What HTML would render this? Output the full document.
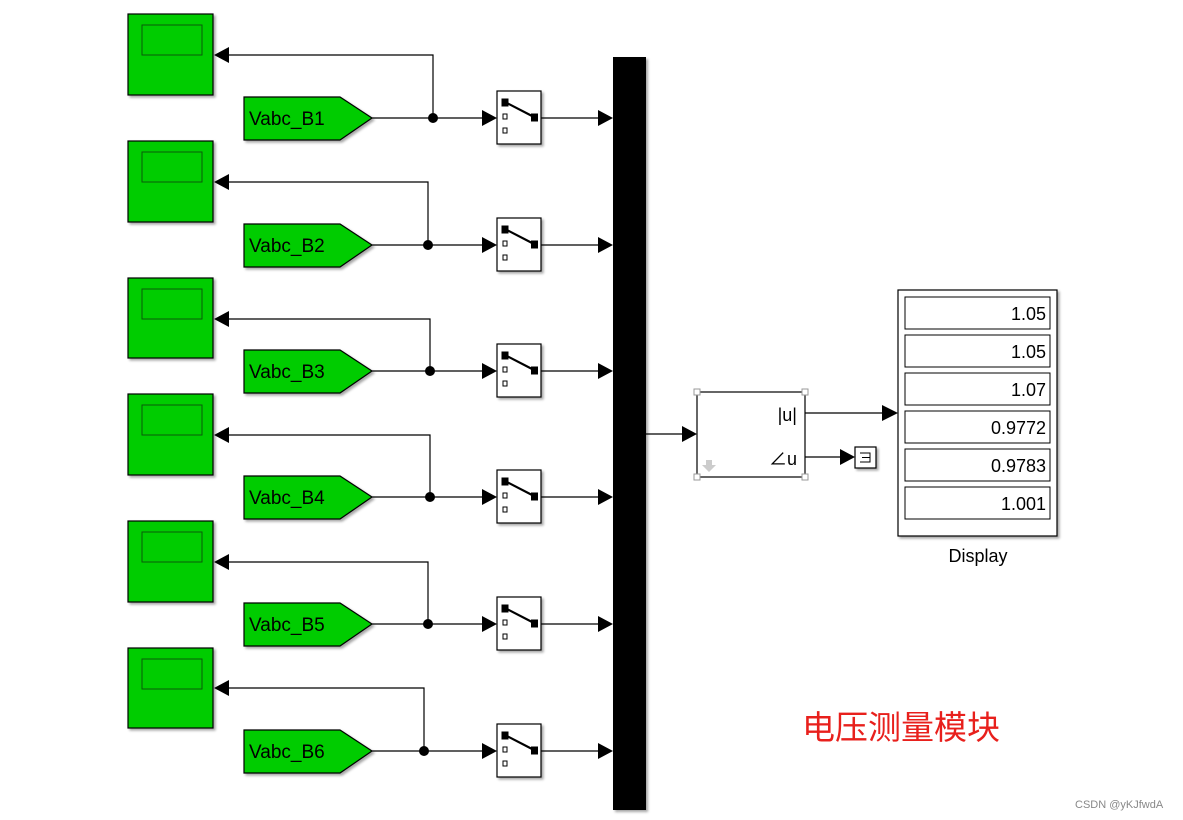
<!DOCTYPE html>
<html><head><meta charset="utf-8"><style>
html,body{margin:0;padding:0;background:#fff;}
svg{display:block;}
text{font-family:"Liberation Sans","Noto Sans CJK SC",sans-serif;}
</style></head><body>
<svg width="1183" height="820" viewBox="0 0 1183 820" xmlns="http://www.w3.org/2000/svg">
<defs>
<filter id="sh" x="-10%" y="-10%" width="130%" height="130%"><feDropShadow dx="2" dy="2" stdDeviation="1.2" flood-color="#000" flood-opacity="0.35"/></filter>
<g id="sw">
<rect x="0" y="0" width="44" height="53" fill="#fff" stroke="#000" stroke-width="1.2" filter="url(#sh)"/>
<rect x="4.5" y="7.5" width="7" height="8" fill="#000"/>
<rect x="34" y="22.5" width="7" height="8" fill="#000"/>
<line x1="8" y1="11" x2="37" y2="26" stroke="#000" stroke-width="2.2"/>
<rect x="6" y="23" width="4" height="5" fill="#fff" stroke="#000" stroke-width="1"/>
<rect x="6" y="37" width="4" height="5" fill="#fff" stroke="#000" stroke-width="1"/>
</g>
</defs>

<rect x="613" y="57" width="33" height="753" fill="#000" filter="url(#sh)"/>

<g stroke="#000" stroke-width="1.2" fill="none">
<path d="M372 118 H488 M433 118 V55 H226 M541 118 H604"/>
<path d="M372 245 H488 M428 245 V182 H226 M541 245 H604"/>
<path d="M372 371 H488 M430 371 V319 H226 M541 371 H604"/>
<path d="M372 497 H488 M430 497 V435 H226 M541 497 H604"/>
<path d="M372 624 H488 M428 624 V562 H226 M541 624 H604"/>
<path d="M372 751 H488 M424 751 V688 H226 M541 751 H604"/>
<path d="M646 434 H686 M805 413 H886 M805 457 H843"/>
</g>
<g fill="#000">
<circle cx="433" cy="118" r="5"/><circle cx="428" cy="245" r="5"/><circle cx="430" cy="371" r="5"/>
<circle cx="430" cy="497" r="5"/><circle cx="428" cy="624" r="5"/><circle cx="424" cy="751" r="5"/>
<path d="M482 110 L497 118 L482 126Z"/><path d="M482 237 L497 245 L482 253Z"/><path d="M482 363 L497 371 L482 379Z"/>
<path d="M482 489 L497 497 L482 505Z"/><path d="M482 616 L497 624 L482 632Z"/><path d="M482 743 L497 751 L482 759Z"/>
<path d="M598 110 L613 118 L598 126Z"/><path d="M598 237 L613 245 L598 253Z"/><path d="M598 363 L613 371 L598 379Z"/>
<path d="M598 489 L613 497 L598 505Z"/><path d="M598 616 L613 624 L598 632Z"/><path d="M598 743 L613 751 L598 759Z"/>
<path d="M229 47 L214 55 L229 63Z"/><path d="M229 174 L214 182 L229 190Z"/><path d="M229 311 L214 319 L229 327Z"/>
<path d="M229 427 L214 435 L229 443Z"/><path d="M229 554 L214 562 L229 570Z"/><path d="M229 680 L214 688 L229 696Z"/>
<path d="M682 426 L697 434 L682 442Z"/><path d="M882 405 L898 413 L882 421Z"/><path d="M840 449 L855 457 L840 465Z"/>
</g>

<g fill="#00cc00" stroke="#000" stroke-width="1.2">
<rect x="128" y="14" width="85" height="81" filter="url(#sh)"/>
<rect x="128" y="141" width="85" height="81" filter="url(#sh)"/>
<rect x="128" y="278" width="85" height="80" filter="url(#sh)"/>
<rect x="128" y="394" width="85" height="81" filter="url(#sh)"/>
<rect x="128" y="521" width="85" height="81" filter="url(#sh)"/>
<rect x="128" y="648" width="85" height="80" filter="url(#sh)"/>
</g>
<g fill="none" stroke="#0a5a0a" stroke-width="1">
<rect x="142" y="25" width="60" height="30"/><rect x="142" y="152" width="60" height="30"/>
<rect x="142" y="289" width="60" height="30"/><rect x="142" y="405" width="60" height="30"/>
<rect x="142" y="532" width="60" height="30"/><rect x="142" y="659" width="60" height="30"/>
</g>

<g fill="#00cc00" stroke="#000" stroke-width="1.2" filter="url(#sh)">
<path d="M244 97 H340 L372 118 L340 140 H244Z"/>
<path d="M244 224 H340 L372 245 L340 267 H244Z"/>
<path d="M244 350 H340 L372 371 L340 393 H244Z"/>
<path d="M244 476 H340 L372 497 L340 519 H244Z"/>
<path d="M244 603 H340 L372 624 L340 646 H244Z"/>
<path d="M244 730 H340 L372 751 L340 773 H244Z"/>
</g>
<g font-size="19" fill="#000">
<text x="249" y="125">Vabc_B1</text><text x="249" y="252">Vabc_B2</text><text x="249" y="378">Vabc_B3</text>
<text x="249" y="504">Vabc_B4</text><text x="249" y="631">Vabc_B5</text><text x="249" y="758">Vabc_B6</text>
</g>

<use href="#sw" x="497" y="91"/><use href="#sw" x="497" y="218"/><use href="#sw" x="497" y="344"/>
<use href="#sw" x="497" y="470"/><use href="#sw" x="497" y="597"/><use href="#sw" x="497" y="724"/>

<rect x="697" y="392" width="108" height="85" fill="#fff" stroke="#000" stroke-width="1.2"/>
<g fill="#fff" stroke="#999" stroke-width="1">
<rect x="694" y="389" width="6" height="6"/><rect x="802" y="389" width="6" height="6"/>
<rect x="694" y="474" width="6" height="6"/><rect x="802" y="474" width="6" height="6"/>
</g>
<path d="M706 460 h6 v5 h4 l-7 7 l-7 -7 h4z" fill="#ccc"/>
<text x="797" y="421" font-size="18" text-anchor="end">|u|</text>
<text x="797" y="465" font-size="18" text-anchor="end">∠u</text>
<rect x="855" y="447" width="21" height="21" fill="#fff" stroke="#000" stroke-width="1.2" filter="url(#sh)"/>
<path d="M860 453 H870 V462 H860 M862 457.5 H870" stroke="#000" stroke-width="1" fill="none"/>

<rect x="898" y="290" width="159" height="246" fill="#fff" stroke="#000" stroke-width="1.2" filter="url(#sh)"/>
<g fill="#fff" stroke="#000" stroke-width="1">
<rect x="905" y="297" width="145" height="32"/><rect x="905" y="335" width="145" height="32"/>
<rect x="905" y="373" width="145" height="32"/><rect x="905" y="411" width="145" height="32"/>
<rect x="905" y="449" width="145" height="32"/><rect x="905" y="487" width="145" height="32"/>
</g>
<g font-size="18" text-anchor="end" fill="#000">
<text x="1046" y="320">1.05</text><text x="1046" y="358">1.05</text><text x="1046" y="396">1.07</text>
<text x="1046" y="434">0.9772</text><text x="1046" y="472">0.9783</text><text x="1046" y="510">1.001</text>
</g>
<text x="978" y="562" font-size="18" text-anchor="middle">Display</text>

<text x="802" y="739" font-size="33" fill="#e8201c">电压测量模块</text>
<text x="1075" y="808" font-size="11" fill="#888">CSDN @yKJfwdA</text>
</svg>
</body></html>
